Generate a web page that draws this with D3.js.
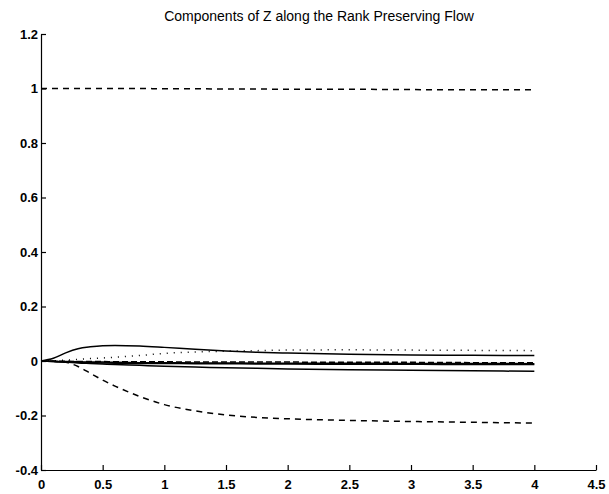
<!DOCTYPE html>
<html>
<head>
<meta charset="utf-8">
<script src="https://cdn.jsdelivr.net/npm/d3@7"></script>
<style>
  body { margin: 0; background: #fff; }
  svg { display: block; }
  .axis text { font-family: "Liberation Sans", Arial, sans-serif; font-size: 13px; font-weight: bold; fill: #000; }
  .axis path, .axis line { stroke: #000; stroke-width: 1.2; }
  .title { font-family: "Liberation Sans", Arial, sans-serif; font-size: 14px; fill: #000; }
</style>
</head>
<body>
<svg id="chart" width="609" height="494"></svg>
<script>
// time samples along the flow
const t = [0, 0.1, 0.2, 0.3, 0.4, 0.5, 0.6, 0.8, 1, 1.25, 1.5, 1.75, 2, 2.5, 3, 3.5, 4];

// components of Z
const zTop    = [1, 1, 1, 1, 1, 1, 1, 1, 0.999, 0.999, 0.998, 0.998, 0.997, 0.997, 0.996, 0.995, 0.995];
const zDown   = [0, -0.001, -0.005, -0.02, -0.045, -0.07, -0.092, -0.13, -0.16, -0.183, -0.198, -0.207, -0.212, -0.218, -0.222, -0.225, -0.228];
const zUpper  = [0, 0.01, 0.03, 0.045, 0.052, 0.056, 0.057, 0.055, 0.05, 0.043, 0.037, 0.032, 0.029, 0.025, 0.022, 0.021, 0.02];
const zDotted = [0, 0.001, 0.003, 0.006, 0.009, 0.011, 0.014, 0.02, 0.028, 0.033, 0.036, 0.038, 0.04, 0.041, 0.04, 0.039, 0.038];
const zNearA  = [0, -0.001, -0.001, -0.002, -0.002, -0.002, -0.003, -0.003, -0.003, -0.004, -0.004, -0.004, -0.004, -0.005, -0.005, -0.006, -0.006];
const zNearB  = [0, -0.002, -0.004, -0.005, -0.006, -0.007, -0.008, -0.009, -0.009, -0.01, -0.01, -0.011, -0.011, -0.012, -0.012, -0.013, -0.013];
const zNearC  = [0, -0.001, -0.002, -0.003, -0.004, -0.004, -0.005, -0.006, -0.006, -0.007, -0.007, -0.008, -0.008, -0.008, -0.009, -0.009, -0.01];
const zLower  = [0, -0.002, -0.004, -0.007, -0.009, -0.011, -0.013, -0.016, -0.019, -0.022, -0.025, -0.027, -0.029, -0.032, -0.034, -0.036, -0.038];

const xTicks = [0, 0.5, 1, 1.5, 2, 2.5, 3, 3.5, 4, 4.5];
const xTickLabels = ['0', '0.5', '1', '1.5', '2', '2.5', '3', '3.5', '4', '4.5'];
const yTicks = [-0.4, -0.2, 0, 0.2, 0.4, 0.6, 0.8, 1, 1.2];
const yTickLabels = ['-0.4', '-0.2', '0', '0.2', '0.4', '0.6', '0.8', '1', '1.2'];

const series = [
    { values: zTop, dash: '6,5' },
    { values: zDown, dash: '6,5' },
    { values: zUpper, dash: null },
    { values: zDotted, dash: '1,6' },
    { values: zNearB, dash: null },
    { values: zNearC, dash: null },
    { values: zNearA, dash: '6,3' },
    { values: zLower, dash: null }
];

const svg = d3.select('#chart');
const margin = { top: 34, right: 13, bottom: 24, left: 41 };
const width = 609 - margin.left - margin.right;
const height = 494 - margin.top - margin.bottom;

const chart = svg.append('g')
    .attr('transform', `translate(${margin.left}, ${margin.top})`);

const xScale = d3.scaleLinear().domain([0, 4.5]).range([0, width]);
const yScale = d3.scaleLinear().domain([-0.4, 1.2]).range([height, 0]);

// matlab-ish axes: ticks point inward, no box
chart.append('g')
    .attr('class', 'axis')
    .attr('transform', `translate(0, ${height})`)
    .call(d3.axisBottom(xScale)
        .tickValues(xTicks)
        .tickFormat((d, i) => xTickLabels[i])
        .tickSizeInner(-5)
        .tickSizeOuter(0)
        .tickPadding(10));

chart.append('g')
    .attr('class', 'axis')
    .call(d3.axisLeft(yScale)
        .tickValues(yTicks)
        .tickFormat((d, i) => yTickLabels[i])
        .tickSizeInner(-5)
        .tickSizeOuter(0)
        .tickPadding(3));

const line = d3.line()
    .x((d, i) => xScale(t[i]))
    .y(d => yScale(d))
    .curve(d3.curveMonotoneX);

chart.selectAll('.comp')
    .data(series)
    .enter()
    .append('path')
    .attr('class', 'comp')
    .attr('d', s => line(s.values))
    .attr('fill', 'none')
    .attr('stroke', '#000')
    .attr('stroke-width', 1.5)
    .attr('stroke-dasharray', s => s.dash);

svg.append('text')
    .attr('class', 'title')
    .attr('x', 319)
    .attr('y', 21)
    .attr('text-anchor', 'middle')
    .text('Components of Z along the Rank Preserving Flow');
</script>
</body>
</html>
